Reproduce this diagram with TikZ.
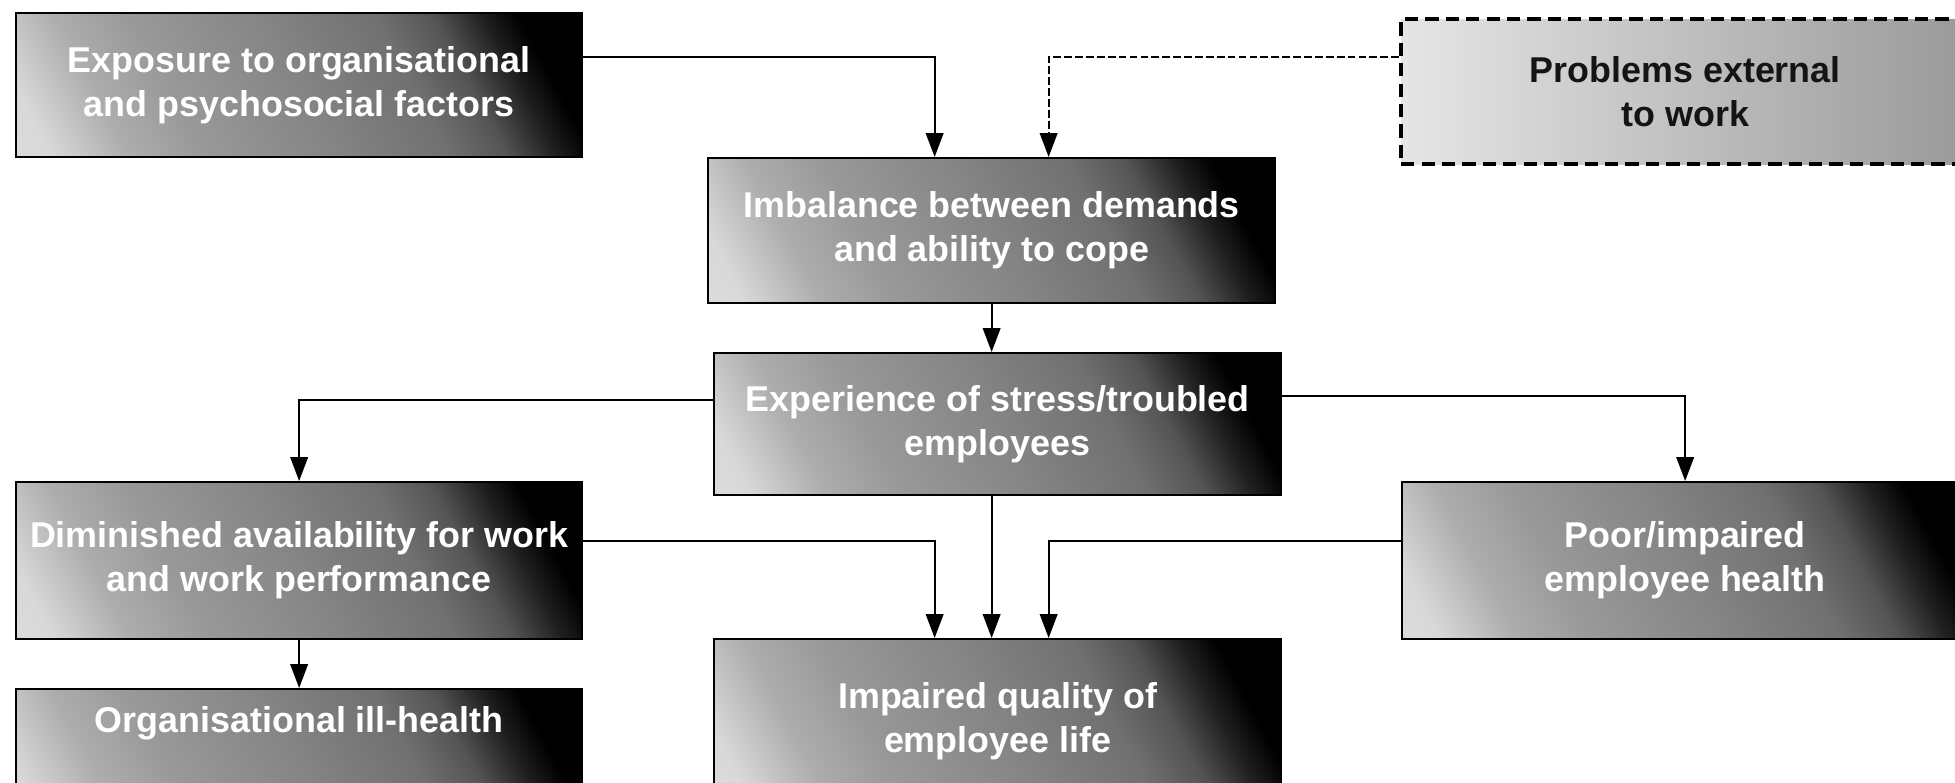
\documentclass[tikz,border=0pt]{standalone}
\usepackage{fontspec}
\setmainfont{Liberation Sans}
\usetikzlibrary{arrows.meta,calc}

% diagonal grey-to-black fill of the main boxes
\pgfdeclarehorizontalshading{darkbox}{100bp}{%
  color(0bp)=(white!90!black);
  color(20bp)=(white!85!black);
  color(28bp)=(white!68!black);
  color(36bp)=(white!60!black);
  color(50bp)=(white!52!black);
  color(62bp)=(white!44!black);
  color(68bp)=(white!33!black);
  color(73bp)=(white!13!black);
  color(77bp)=(black);
  color(100bp)=(black)}
% pale fill of the dashed box
\pgfdeclarehorizontalshading{lightbox}{100bp}{%
  color(0bp)=(white!92!black);
  color(25bp)=(white!90!black);
  color(75bp)=(white!60!black);
  color(100bp)=(white!60!black)}

\begin{document}
\begin{tikzpicture}[x=0.01cm,y=-0.01cm,
  boxfont/.style={font=\bfseries\fontsize{10.2}{12.4}\selectfont},
  box/.style={draw=black, line width=0.55pt, shade, shading=darkbox, shading angle=28,
    minimum width=5.66cm, minimum height=1.44cm, inner sep=0pt, anchor=north west,
    align=center, text=white, boxfont},
  extbox/.style={box, shading=lightbox, shading angle=0, line width=1.2pt,
    dash pattern=on 3.8pt off 2pt, text=black!92},
  btext/.style={align=center, text=white, boxfont, inner sep=0pt},
  arr/.style={draw=black, line width=0.55pt, -{Triangle[width=5pt,length=6.8pt]}},
  darr/.style={arr, dash pattern=on 2.2pt off 0.9pt}
]
\useasboundingbox (0,0) rectangle (1955,782);
\clip (0,0) rectangle (1955,782);

% boxes
\node[box] (expo) at (15,12) {Exposure to organisational\\and psychosocial factors};
\node[extbox, minimum width=5.68cm, minimum height=1.45cm] (prob) at (1399,17) {Problems external\\to work};
\node[box, minimum width=5.67cm, minimum height=1.45cm] (imb) at (707,157) {Imbalance between demands\\and ability to cope};
\node[box, minimum width=5.67cm, minimum height=1.42cm] (exp) at (713,352) {Experience of stress/troubled\\employees};
\node[box, minimum height=1.57cm] (dim) at (15,481) {Diminished availability for work\\and work performance};
\node[box, minimum height=1.57cm] (poor) at (1401,481) {Poor/impaired\\employee health};
\node[box, minimum width=5.67cm, minimum height=1.64cm] (imp) at (713,638) {Impaired quality of\\employee life};
\node[box, minimum height=1.5cm] (org) at (15,688) {};
\node[btext] (orgtext) at ($(org.north)+(0,35)$) {Organisational ill-health};

% connectors
\draw[arr] ($(expo.north east)+(0,45)$) -| ($(imb.north)+(-57,0)$);
\draw[darr] ($(prob.north west)+(0,40)$) -| ($(imb.north)+(57,0)$);
\draw[arr] (imb.south) -- (imb.south |- exp.north);
\draw[arr] ($(exp.north west)+(0,48)$) -| (dim.north);
\draw[arr] ($(exp.north east)+(0,44)$) -| (poor.north);
\draw[arr] (dim.south) -- (org.north);
\draw[arr] ($(dim.north east)+(0,60)$) -| ($(imp.north)+(-63,0)$);
\draw[arr] (imb.south |- exp.south) -- (imb.south |- imp.north);
\draw[arr] ($(poor.north west)+(0,60)$) -| ($(imp.north)+(51,0)$);
\end{tikzpicture}
\end{document}
